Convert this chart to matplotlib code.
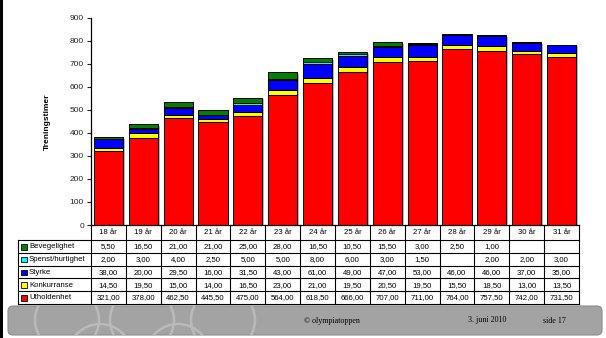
import numpy as np
import matplotlib
matplotlib.use("Agg")
import matplotlib.pyplot as plt
from matplotlib.patches import Rectangle, FancyBboxPatch, Circle
from matplotlib.transforms import offset_copy

plt.rcParams['font.family'] = ['Liberation Sans', 'DejaVu Sans']

categories = ["18 år", "19 år", "20 år", "21 år", "22 år", "23 år", "24 år",
              "25 år", "26 år", "27 år", "28 år", "29 år", "30 år", "31 år"]
bevegelighet = [5.5, 16.5, 21.0, 21.0, 25.0, 28.0, 16.5, 10.5, 15.5, 3.0, 2.5, 1.0, None, None]
spenst = [2.0, 3.0, 4.0, 2.5, 5.0, 5.0, 8.0, 6.0, 3.0, 1.5, None, 2.0, 2.0, 3.0]
styrke = [38.0, 20.0, 29.5, 16.0, 31.5, 43.0, 61.0, 49.0, 47.0, 53.0, 46.0, 46.0, 37.0, 35.0]
konkurranse = [14.5, 19.5, 15.0, 14.0, 16.5, 23.0, 21.0, 19.5, 20.5, 19.5, 15.5, 18.5, 13.0, 13.5]
utholdenhet = [321.0, 378.0, 462.5, 445.5, 475.0, 564.0, 618.5, 666.0, 707.0, 711.0, 764.0, 757.5, 742.0, 731.5]

series_names = ["Utholdenhet", "Konkurranse", "Styrke", "Spenst/hurtighet", "Bevegelighet"]
series_vals = [utholdenhet, konkurranse, styrke, spenst, bevegelighet]
series_colors = ["#ff0000", "#ffff00", "#0000ff", "#00ffff", "#008000"]

W, H = 606, 338
fig = plt.figure(figsize=(W / 100, H / 100), dpi=100)
fig.patch.set_facecolor("white")

# overlay axes in pixel coordinates for slide decorations and table
ov = fig.add_axes([0, 0, 1, 1], zorder=0)
ov.set_xlim(0, W)
ov.set_ylim(H, 0)
ov.axis("off")

# left black border
ov.add_patch(Rectangle((0, 0), 3, H, color="black", lw=0))
# footer band
footer = FancyBboxPatch((8, 306), 594, 29, boxstyle="round,pad=0,rounding_size=5",
                        fc="#a3a3a3", ec="#8c8c8c", lw=0.8)
ov.add_patch(footer)
for cx, cy in [(67, 320), (142, 320), (223, 320), (100, 356), (178, 356)]:
    c = Circle((cx, cy), 32, fill=False, ec="#bababa", lw=1.8)
    ov.add_patch(c)
    c.set_clip_path(footer)
ov.text(304, 321, "© olympiatoppen", fontsize=5.8, family="Liberation Serif", va="center", ha="left")
ov.text(468, 320, "3. juni 2010", fontsize=5.8, family="Liberation Serif", va="center", ha="left")
ov.text(543, 321, "side 17", fontsize=5.8, family="Liberation Serif", va="center", ha="left")

# main chart axes
x0, x1 = 91, 579
ytop, ybot = 17.7, 225
ax = fig.add_axes([x0 / W, 1 - ybot / H, (x1 - x0) / W, (ybot - ytop) / H], zorder=1)
ax.set_facecolor("none")
n = len(categories)
x = np.arange(n)
ax.set_xlim(-0.5, n - 0.5)
ax.set_ylim(0, 900)
ax.set_yticks(np.arange(0, 901, 100))
ax.tick_params(axis="y", labelsize=6, length=3, width=0.8, pad=2, colors="#222222")
ax.set_xticks([])
for s in ["top", "right"]:
    ax.spines[s].set_visible(False)
ax.spines["left"].set_linewidth(0.9)
ax.spines["bottom"].set_linewidth(0.9)
ax.set_ylabel("Treningstimer", fontsize=6, fontweight="bold", labelpad=14)

vals = [np.array([v if v is not None else 0.0 for v in s]) for s in series_vals]
totals = np.sum(vals, axis=0)
bw = 0.84
shadow_tr = offset_copy(ax.transData, fig=fig, x=1.6, y=-1.6, units="dots")
ax.bar(x, totals, width=bw, color="#b5b5b5", lw=0, transform=shadow_tr, zorder=1)
bottom = np.zeros(n)
for v, c in zip(vals, series_colors):
    ax.bar(x, v, width=bw, bottom=bottom, color=c, edgecolor="black", lw=0.7, zorder=2)
    bottom = bottom + v

# table
colw = (x1 - x0) / n
tl = 18
hdr_top, hdr_bot = 225, 240
row_h = (304 - 240) / 5
rows_order = list(range(4, -1, -1))  # Bevegelighet first
lw = 0.8
for i in range(n + 1):
    xx = x0 + i * colw
    ov.plot([xx, xx], [hdr_top, 304], color="black", lw=lw)
ov.plot([tl, tl], [hdr_bot, 304], color="black", lw=lw)
for r in range(6):
    yy = hdr_bot + r * row_h
    ov.plot([tl, x1], [yy, yy], color="black", lw=lw)
for i, cat in enumerate(categories):
    ov.text(x0 + (i + 0.5) * colw, (hdr_top + hdr_bot) / 2 + 0.5, cat, ha="center", va="center", fontsize=5.6)


def fmt(v):
    return "" if v is None else ("%.2f" % v).replace(".", ",")


for r, si in enumerate(rows_order):
    yc = hdr_bot + (r + 0.5) * row_h + 0.3
    ov.add_patch(Rectangle((21, yc - 2.8), 5.6, 5.6, fc=series_colors[si], ec="black", lw=0.6))
    ov.text(29, yc, series_names[si], ha="left", va="center", fontsize=5.6)
    for i in range(n):
        ov.text(x0 + (i + 0.5) * colw, yc, fmt(series_vals[si][i]), ha="center", va="center", fontsize=5.6)

fig.savefig("out.png", dpi=100)
